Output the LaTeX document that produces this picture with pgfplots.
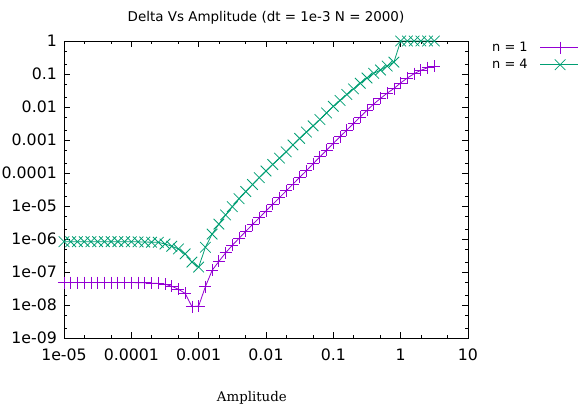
\documentclass[border=0pt]{standalone}
\usepackage{pgfplots}
\pgfplotsset{compat=1.18}
\usepackage{fontspec}
\newfontfamily\dvs{DejaVu Sans}
\newfontfamily\dvserif{DejaVu Serif}
\definecolor{gpone}{HTML}{9400D3}
\definecolor{gptwo}{HTML}{009E73}
\begin{document}
\begin{tikzpicture}
\begin{axis}[
  name=ax,
  scale only axis,
  width=404bp, height=297bp,
  xmode=log, ymode=log,
  xmin=1e-5, xmax=10, ymin=1e-9, ymax=1,
  clip=false,
  xtick={1e-5,1e-4,1e-3,1e-2,1e-1,1,10},
  xticklabels={1e-05,0.0001,0.001,0.01,0.1,1,10},
  ytick={1e-9,1e-8,1e-7,1e-6,1e-5,1e-4,1e-3,1e-2,1e-1,1},
  yticklabels={1e-09,1e-08,1e-07,1e-06,1e-05,0.0001,0.001,0.01,0.1,1},
  minor xtick={2e-5,5e-5,2e-4,5e-4,2e-3,5e-3,2e-2,5e-2,0.2,0.5,2,5},
  minor ytick={2e-9,5e-9,2e-8,5e-8,2e-7,5e-7,2e-6,5e-6,2e-5,5e-5,2e-4,5e-4,2e-3,5e-3,2e-2,5e-2,0.2,0.5},
  tick align=inside,
  major tick length=6bp, minor tick length=3bp,
  tick style={black, line width=0.5pt},
  axis line style={black, line width=0.8pt},
  ticklabel style={font=\dvs\fontsize{15.8}{18}\selectfont},
  xticklabel style={anchor=north, inner sep=0pt, yshift=-11bp},
  yticklabel style={anchor=east, inner sep=0pt, xshift=-7bp},
  title={Delta Vs Amplitude (dt = 1e-3 N = 2000)},
  title style={font=\dvs\fontsize{13.5}{15}\selectfont, at={(0.5,1)}, anchor=base, yshift=14bp},
  xlabel={Amplitude},
  xlabel style={font=\dvserif\fontsize{13.4}{15}\selectfont, at={(axis description cs:0.465,0)}, anchor=base, yshift=-63bp},
  legend plot pos=right,
  legend cell align=right,
  legend style={draw=none, fill=none, at={(axis description cs:1,1)}, anchor=north west, xshift=24bp, yshift=0bp,
    font=\dvs\fontsize{13}{15}\selectfont, inner sep=0pt, row sep=4bp, column sep=12bp,
    nodes={inner sep=0pt, text height=10bp, text depth=3bp}},
  legend image code/.code={\draw[mark repeat=2,mark phase=2,#1] plot coordinates {(0bp,0bp) (20bp,0bp) (40bp,0bp)};},
]
\addplot[color=gpone, line width=0.8pt, mark=+, mark size=6bp, mark options={line width=0.8pt}] table[row sep=\\] {
x y\\
1e-5 4.8e-8\\ 1.2589e-5 4.8e-8\\ 1.5849e-5 4.8e-8\\ 1.9953e-5 4.8e-8\\ 2.5119e-5 4.8e-8\\
3.1623e-5 4.8e-8\\ 3.9811e-5 4.8e-8\\ 5.0119e-5 4.8e-8\\ 6.3096e-5 4.8e-8\\ 7.9433e-5 4.8e-8\\
1e-4 4.8e-8\\ 1.2589e-4 4.75e-8\\ 1.5849e-4 4.7e-8\\ 1.9953e-4 4.6e-8\\ 2.5119e-4 4.5e-8\\
3.1623e-4 4.27e-8\\ 3.9811e-4 3.7e-8\\ 5.0119e-4 3.0e-8\\ 6.3096e-4 2.24e-8\\ 7.9433e-4 8.9e-9\\
1e-3 9.3e-9\\ 1.2589e-3 3.6e-8\\ 1.5849e-3 1.12e-7\\ 1.9953e-3 2.09e-7\\ 2.5119e-3 3.8e-7\\
3.1623e-3 6.46e-7\\ 3.9811e-3 1.05e-6\\ 5.0119e-3 1.70e-6\\ 6.3096e-3 2.75e-6\\ 7.9433e-3 4.37e-6\\
1e-2 7.08e-6\\ 1.2589e-2 1.12e-5\\ 1.5849e-2 1.78e-5\\ 1.9953e-2 2.88e-5\\ 2.5119e-2 4.57e-5\\
3.1623e-2 7.41e-5\\ 3.9811e-2 1.17e-4\\ 5.0119e-2 1.91e-4\\ 6.3096e-2 3.09e-4\\ 7.9433e-2 4.90e-4\\
0.1 7.94e-4\\ 0.12589 1.26e-3\\ 0.15849 2.0e-3\\ 0.19953 3.16e-3\\ 0.25119 5.01e-3\\
0.31623 7.94e-3\\ 0.39811 1.23e-2\\ 0.50119 1.82e-2\\ 0.63096 2.63e-2\\ 0.79433 3.63e-2\\
1.0 5.37e-2\\ 1.2589 7.59e-2\\ 1.5849 0.102\\ 1.9953 0.129\\ 2.5119 0.155\\
3.1623 0.170\\
};
\addlegendentry{n = 1}
\addplot[color=gptwo, line width=0.8pt, mark=x, mark size=7.5bp, mark options={line width=0.8pt}] table[row sep=\\] {
x y\\
1e-5 8.3e-7\\ 1.2589e-5 8.3e-7\\ 1.5849e-5 8.3e-7\\ 1.9953e-5 8.3e-7\\ 2.5119e-5 8.3e-7\\
3.1623e-5 8.3e-7\\ 3.9811e-5 8.3e-7\\ 5.0119e-5 8.3e-7\\ 6.3096e-5 8.3e-7\\ 7.9433e-5 8.3e-7\\
1e-4 8.25e-7\\ 1.2589e-4 8.2e-7\\ 1.5849e-4 8.1e-7\\ 1.9953e-4 8.0e-7\\ 2.5119e-4 7.94e-7\\
3.1623e-4 7.08e-7\\ 3.9811e-4 6.03e-7\\ 5.0119e-4 5.01e-7\\ 6.3096e-4 3.55e-7\\ 7.9433e-4 2.0e-7\\
1e-3 1.41e-7\\ 1.2589e-3 5.62e-7\\ 1.5849e-3 1.41e-6\\ 1.9953e-3 2.82e-6\\ 2.5119e-3 5.37e-6\\
3.1623e-3 9.55e-6\\ 3.9811e-3 1.66e-5\\ 5.0119e-3 2.75e-5\\ 6.3096e-3 4.47e-5\\ 7.9433e-3 7.24e-5\\
1e-2 1.15e-4\\ 1.2589e-2 1.82e-4\\ 1.5849e-2 2.82e-4\\ 1.9953e-2 4.37e-4\\ 2.5119e-2 7.08e-4\\
3.1623e-2 1.12e-3\\ 3.9811e-2 1.74e-3\\ 5.0119e-2 2.69e-3\\ 6.3096e-2 4.17e-3\\ 7.9433e-2 6.61e-3\\
0.1 1.05e-2\\ 0.12589 1.58e-2\\ 0.15849 2.40e-2\\ 0.19953 3.55e-2\\ 0.25119 5.25e-2\\
0.31623 7.59e-2\\ 0.39811 0.105\\ 0.50119 0.132\\ 0.63096 0.174\\ 0.79433 0.229\\
1.0 1.0\\ 1.2589 1.0\\ 1.5849 1.0\\ 1.9953 1.0\\ 2.5119 1.0\\
3.1623 1.0\\
};
\addlegendentry{n = 4}
\end{axis}
\pgfresetboundingbox
\useasboundingbox (ax.south west) ++(-64bp,-66bp) rectangle ++(578bp,404bp);
\end{tikzpicture}
\end{document}
